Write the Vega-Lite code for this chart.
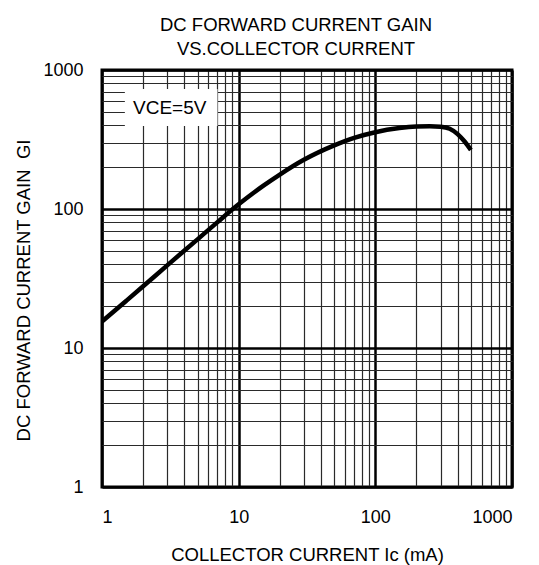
{
  "$schema": "https://vega.github.io/schema/vega-lite/v6.json",
  "autosize": "none",
  "width": 410,
  "height": 417,
  "padding": {"left": 102, "top": 70, "right": 27, "bottom": 78},
  "background": "white",
  "config": {
    "font": "Liberation Sans",
    "view": {"stroke": "black", "strokeWidth": 3},
    "axis": {"domain": false, "ticks": false, "labelColor": "black", "titleColor": "black", "labelFont": "Liberation Sans", "titleFont": "Liberation Sans", "titleFontWeight": "normal", "labelFontSize": 18, "titleFontSize": 18.5}
  },
  "title": {
    "text": ["DC FORWARD CURRENT GAIN", "VS.COLLECTOR CURRENT"],
    "fontSize": 18.5,
    "fontWeight": "normal",
    "font": "Liberation Sans",
    "color": "black",
    "lineHeight": 24,
    "offset": 3,
    "dx": -11
  },
  "datasets": {
    "curve": [
      {"ic": 1, "gain": 15.5},
      {"ic": 1.5, "gain": 21.8},
      {"ic": 2, "gain": 27.8},
      {"ic": 3, "gain": 39.3},
      {"ic": 5, "gain": 60.5},
      {"ic": 7, "gain": 80.5},
      {"ic": 10, "gain": 108},
      {"ic": 15, "gain": 146},
      {"ic": 20, "gain": 177},
      {"ic": 30, "gain": 226},
      {"ic": 50, "gain": 287},
      {"ic": 70, "gain": 325},
      {"ic": 100, "gain": 357},
      {"ic": 150, "gain": 382},
      {"ic": 200, "gain": 392},
      {"ic": 250, "gain": 394},
      {"ic": 300, "gain": 391},
      {"ic": 350, "gain": 378},
      {"ic": 400, "gain": 346},
      {"ic": 450, "gain": 306},
      {"ic": 500, "gain": 266}
    ],
    "note": [
      {"x1": 1.47, "x2": 7.0, "y1": 395, "y2": 730, "xt": 3.13, "yt": 535, "label": "VCE=5V"}
    ]
  },
  "layer": [
    {
      "data": {"name": "note"},
      "mark": {"type": "rect", "fill": "white", "stroke": null},
      "encoding": {
        "x": {"field": "x1", "type": "quantitative", "scale": {"type": "log", "domain": [1, 1000], "nice": false},
          "axis": {
            "title": "COLLECTOR CURRENT Ic (mA)",
            "titlePadding": 19,
            "labelPadding": 21,
            "values": [1,2,3,4,5,6,7,8,9,10,20,30,40,50,60,70,80,90,100,200,300,400,500,600,700,800,900,1000],
            "format": "d",
            "labelExpr": "indexof([1,10,100,1000], datum.value) >= 0 ? datum.label : ''",
            "grid": true,
            "gridColor": {"condition": {"test": "indexof([1,10,100,1000], datum.value) >= 0", "value": "black"}, "value": "#2a2a2a"},
            "gridWidth": {"condition": {"test": "indexof([1,10,100,1000], datum.value) >= 0", "value": 2.5}, "value": 1.2},
            "gridOpacity": 1
          }
        },
        "x2": {"field": "x2"},
        "y": {"field": "y1", "type": "quantitative", "scale": {"type": "log", "domain": [1, 1000], "nice": false},
          "axis": {
            "title": "DC FORWARD CURRENT GAIN\u00a0\u00a0GI",
            "titlePadding": 9,
            "titleY": 220,
            "labelPadding": 19,
            "values": [1,2,3,4,5,6,7,8,9,10,20,30,40,50,60,70,80,90,100,200,300,400,500,600,700,800,900,1000],
            "format": "d",
            "labelExpr": "indexof([1,10,100,1000], datum.value) >= 0 ? datum.label : ''",
            "grid": true,
            "gridColor": {"condition": {"test": "indexof([1,10,100,1000], datum.value) >= 0", "value": "black"}, "value": "#2a2a2a"},
            "gridWidth": {"condition": {"test": "indexof([1,10,100,1000], datum.value) >= 0", "value": 2.5}, "value": 1.2},
            "gridOpacity": 1
          }
        },
        "y2": {"field": "y2"}
      }
    },
    {
      "data": {"name": "note"},
      "mark": {"type": "text", "fontSize": 19, "font": "Liberation Sans", "color": "black", "align": "center", "baseline": "middle"},
      "encoding": {
        "x": {"field": "xt", "type": "quantitative"},
        "y": {"field": "yt", "type": "quantitative"},
        "text": {"field": "label"}
      }
    },
    {
      "data": {"name": "curve"},
      "mark": {"type": "line", "color": "black", "strokeWidth": 4.5, "interpolate": "monotone", "clip": true},
      "encoding": {
        "x": {"field": "ic", "type": "quantitative"},
        "y": {"field": "gain", "type": "quantitative"}
      }
    }
  ]
}
